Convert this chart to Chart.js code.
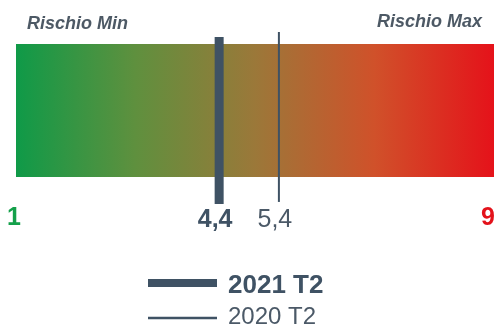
<!DOCTYPE html>
<html>
<head>
<meta charset="utf-8">
<script src="https://cdn.jsdelivr.net/npm/chart.js@4.4.1/dist/chart.umd.min.js"></script>
<style>
  html, body { margin: 0; padding: 0; background: #ffffff; }
  #wrap { width: 496px; height: 325px; }
</style>
</head>
<body>
<div id="wrap"><canvas id="c" width="496" height="325"></canvas></div>
<script>
// Risk scale: end points and their captions
const scaleEnds = [1, 9];
const scaleCaptions = ['Rischio Min', 'Rischio Max'];
const endColors = ['#14a04a', '#e3121b'];

// Position of each period on the risk scale
const periods = ['2021 T2', '2020 T2'];
const periodValues = [4.4, 5.4];

// ---- styling ----
const FONT = '"Liberation Sans", Arial, Helvetica, sans-serif';
const SLATE = '#3f5264';
const SLATE_LIGHT = '#4b5967';
const CAPTION = '#4d5965';
const GRADIENT_STOPS = [
  [0.00, '#0f9a48'],
  [0.25, '#5f903e'],
  [0.50, '#9b7839'],
  [0.75, '#d0512a'],
  [1.00, '#e5121a']
];
// vertical extents on a hidden 0..1 axis
const BAND = { bottom: 0.157, top: 0.930 };
const MARKER = [
  { from: 0.000, to: 0.971, width: 9, color: SLATE, legendWidth: 8, font: 'bold 26px', text: SLATE },
  { from: 0.012, to: 1.000, width: 2, color: SLATE, legendWidth: 2.5, font: '24px', text: SLATE_LIGHT }
];

const comma = v => String(v).replace('.', ',');

function bandGradient(context) {
  const chart = context.chart;
  const { ctx, chartArea, scales } = chart;
  if (!chartArea) return null;
  const x0 = scales.x.getPixelForValue(scaleEnds[0]);
  const x1 = scales.x.getPixelForValue(scaleEnds[1]);
  const g = ctx.createLinearGradient(x0, 0, x1, 0);
  GRADIENT_STOPS.forEach(([o, c]) => g.addColorStop(o, c));
  return g;
}

const datasets = periods.map((label, i) => ({
  label,
  data: [{ x: periodValues[i], y: MARKER[i].from }, { x: periodValues[i], y: MARKER[i].to }],
  showLine: true,
  borderColor: MARKER[i].color,
  borderWidth: MARKER[i].width,
  borderCapStyle: 'butt',
  pointRadius: 0,
  fill: false,
  order: i,
  isPeriod: true
}));

datasets.push({
  label: 'scala',
  data: scaleEnds.map(x => ({ x, y: BAND.top })),
  showLine: true,
  borderColor: 'rgba(0,0,0,0)',
  borderWidth: 0,
  pointRadius: 0,
  fill: { value: BAND.bottom },
  backgroundColor: bandGradient,
  order: 10
});

// Captions, value labels and the stacked legend
const labelsPlugin = {
  id: 'riskLabels',
  afterDraw(chart) {
    const { ctx, scales } = chart;
    const x = scales.x;
    ctx.save();
    ctx.textBaseline = 'alphabetic';

    // captions above the band
    ctx.font = `italic bold 18px ${FONT}`;
    ctx.fillStyle = CAPTION;
    ctx.textAlign = 'left';
    ctx.fillText(scaleCaptions[0], x.getPixelForValue(scaleEnds[0]) + 11, 29);
    ctx.textAlign = 'right';
    ctx.fillText(scaleCaptions[1], x.getPixelForValue(scaleEnds[1]) - 12, 27);

    // scale end values
    ctx.font = `bold 25px ${FONT}`;
    ctx.fillStyle = endColors[0];
    ctx.textAlign = 'center';
    ctx.fillText(comma(scaleEnds[0]), x.getPixelForValue(scaleEnds[0]) - 2, 225);
    ctx.fillStyle = endColors[1];
    ctx.textAlign = 'right';
    ctx.fillText(comma(scaleEnds[1]), x.getPixelForValue(scaleEnds[1]) + 1, 225);

    // period values under their markers
    ctx.textAlign = 'center';
    periodValues.forEach((v, i) => {
      ctx.font = `${i === 0 ? 'bold ' : ''}25px ${FONT}`;
      ctx.fillStyle = MARKER[i].text;
      ctx.fillText(comma(v), x.getPixelForValue(v) - 4, 227);
    });

    // legend
    const rows = [{ line: 283, base: 293 }, { line: 318, base: 324 }];
    chart.data.datasets.filter(d => d.isPeriod).forEach((d, i) => {
      ctx.strokeStyle = d.borderColor;
      ctx.lineWidth = MARKER[i].legendWidth;
      ctx.lineCap = 'butt';
      ctx.beginPath();
      ctx.moveTo(148, rows[i].line);
      ctx.lineTo(217, rows[i].line);
      ctx.stroke();
      ctx.font = `${MARKER[i].font} ${FONT}`;
      ctx.fillStyle = MARKER[i].text;
      ctx.textAlign = 'left';
      ctx.fillText(d.label, 228, rows[i].base);
    });
    ctx.restore();
  }
};

new Chart(document.getElementById('c'), {
  type: 'scatter',
  data: { datasets },
  options: {
    responsive: false,
    animation: false,
    devicePixelRatio: 1,
    layout: { padding: { left: 16, right: 2, top: 32, bottom: 121 } },
    scales: {
      x: { type: 'linear', min: scaleEnds[0], max: scaleEnds[1], display: false },
      y: { type: 'linear', min: 0, max: 1, display: false }
    },
    plugins: {
      legend: { display: false },
      tooltip: { enabled: false }
    }
  },
  plugins: [labelsPlugin]
});
</script>
</body>
</html>
